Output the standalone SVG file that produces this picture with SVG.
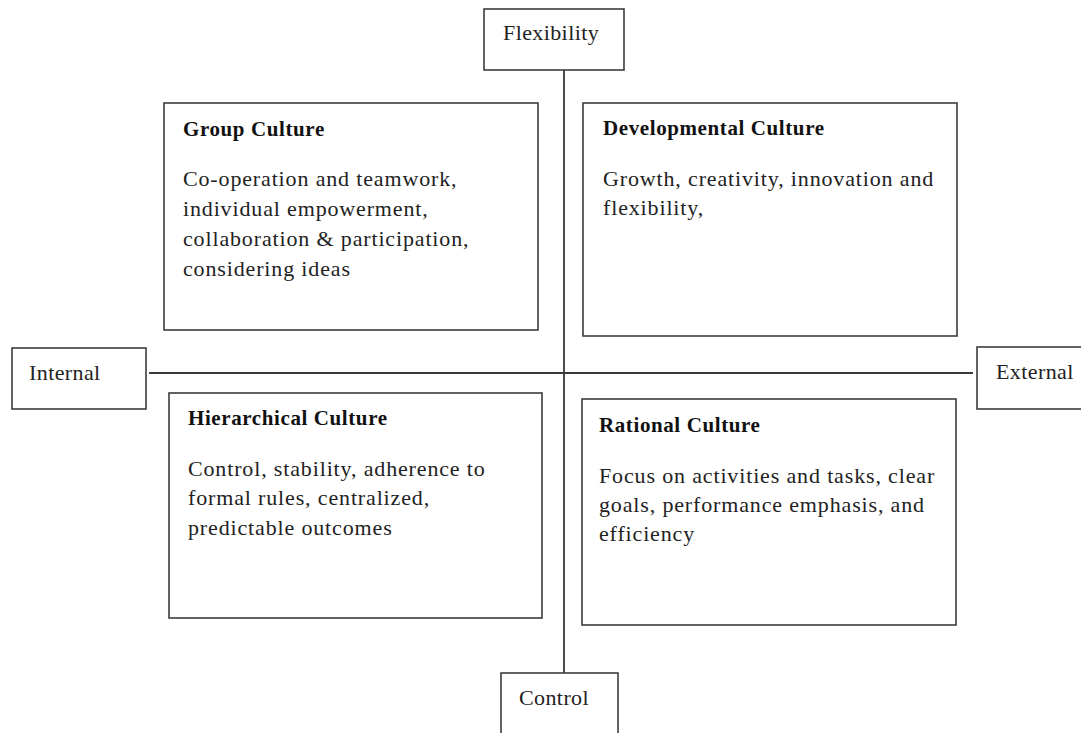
<svg xmlns="http://www.w3.org/2000/svg" width="1081" height="733" viewBox="0 0 1081 733">
  <style>
    .box { fill: #ffffff; stroke: #3c3c3c; stroke-width: 1.6; }
    .axis { fill: none; stroke: #3a3a3a; stroke-width: 1.8; }
    text { font-family: "Liberation Serif", "DejaVu Serif", serif; fill: #222222; }
    .label { font-size: 22px; letter-spacing: 0.4px; }
    .title { font-size: 21px; font-weight: bold; letter-spacing: 0.6px; fill: #111111; }
    .body { font-size: 22px; letter-spacing: 0.85px; }
  </style>
  <rect width="1081" height="733" fill="#ffffff"/>

  <!-- axes -->
  <g id="connectors">
    <line class="axis" x1="564" y1="70" x2="564" y2="673"/>
    <line class="axis" x1="149" y1="373" x2="973" y2="373"/>
  </g>

  <!-- axis end labels -->
  <g id="flexibility">
    <rect class="box" x="484" y="9" width="140" height="61"/>
    <text class="label" x="503" y="40">Flexibility</text>
  </g>
  <g id="internal">
    <rect class="box" x="12" y="348" width="134" height="61"/>
    <text class="label" x="29" y="380">Internal</text>
  </g>
  <g id="external">
    <rect class="box" x="977" y="347" width="110" height="62"/>
    <text class="label" x="996" y="379">External</text>
  </g>
  <g id="control">
    <rect class="box" x="501" y="673" width="117" height="70"/>
    <text class="label" x="519" y="705">Control</text>
  </g>

  <!-- quadrants -->
  <g id="group-culture">
    <rect class="box" x="164" y="103" width="374" height="227"/>
    <text class="title" x="183" y="136">Group Culture</text>
    <text class="body" x="183" y="186">Co-operation and teamwork,</text>
    <text class="body" x="183" y="216">individual empowerment,</text>
    <text class="body" x="183" y="246">collaboration &amp; participation,</text>
    <text class="body" x="183" y="276">considering ideas</text>
  </g>
  <g id="developmental-culture">
    <rect class="box" x="583" y="103" width="374" height="233"/>
    <text class="title" x="603" y="135">Developmental Culture</text>
    <text class="body" x="603" y="186">Growth, creativity, innovation and</text>
    <text class="body" x="603" y="215">flexibility,</text>
  </g>
  <g id="hierarchical-culture">
    <rect class="box" x="169" y="393" width="373" height="225"/>
    <text class="title" x="188" y="425">Hierarchical Culture</text>
    <text class="body" x="188" y="476">Control, stability, adherence to</text>
    <text class="body" x="188" y="505">formal rules, centralized,</text>
    <text class="body" x="188" y="535">predictable outcomes</text>
  </g>
  <g id="rational-culture">
    <rect class="box" x="582" y="399" width="374" height="226"/>
    <text class="title" x="599" y="432">Rational Culture</text>
    <text class="body" x="599" y="483">Focus on activities and tasks, clear</text>
    <text class="body" x="599" y="512">goals, performance emphasis, and</text>
    <text class="body" x="599" y="541">efficiency</text>
  </g>
</svg>
